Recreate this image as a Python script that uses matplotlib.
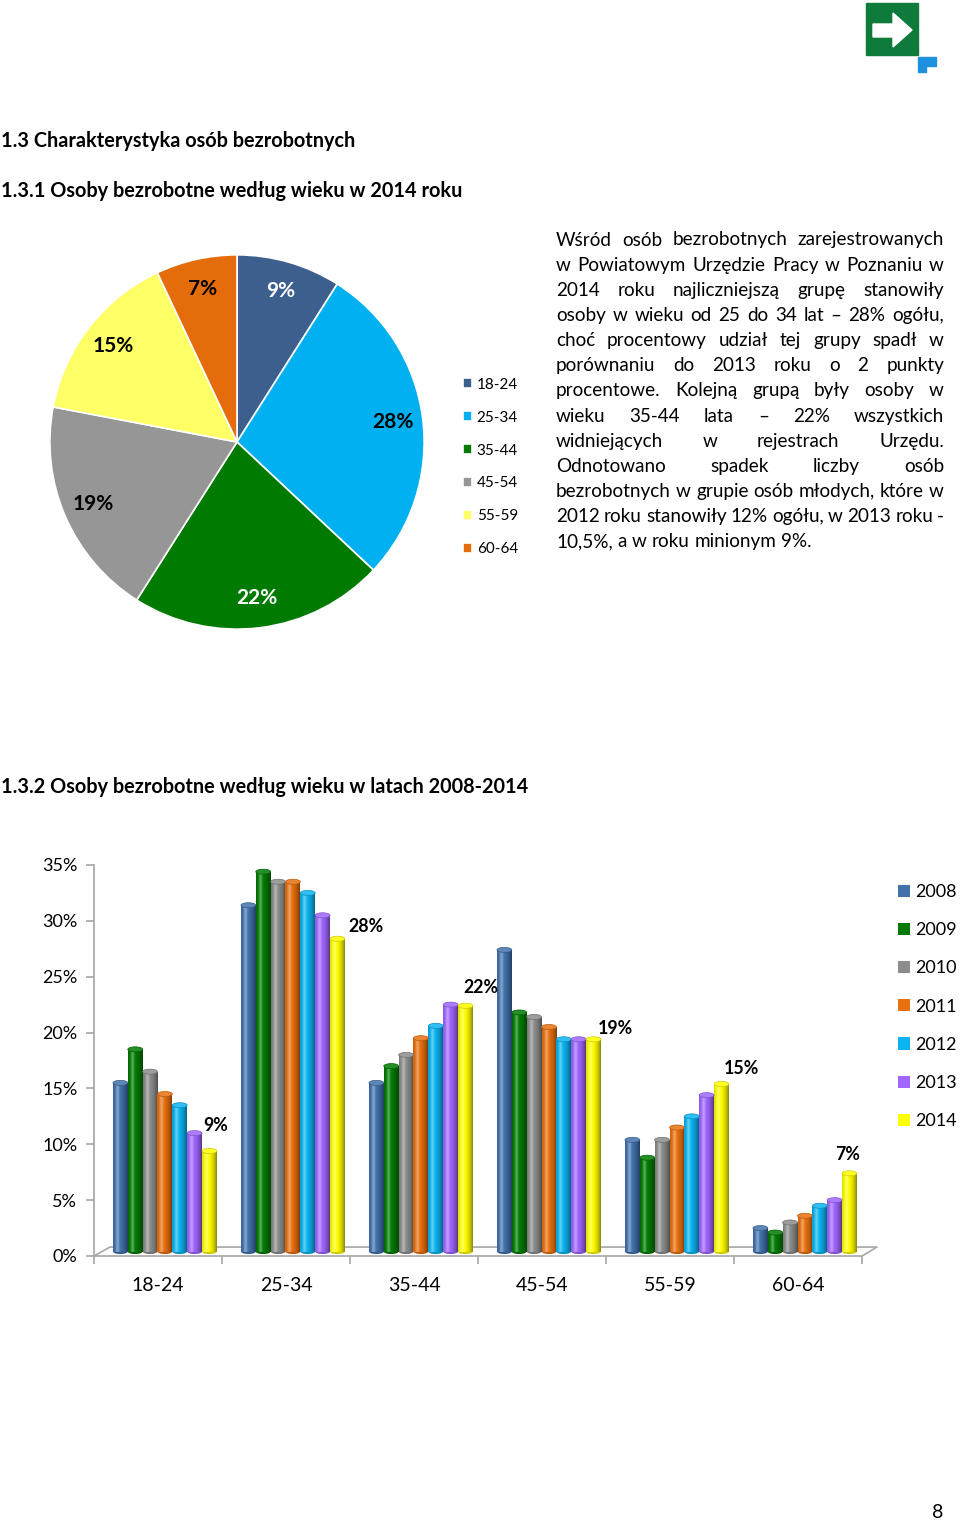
import matplotlib
matplotlib.use("Agg")
import matplotlib.pyplot as plt
import numpy as np
from matplotlib.patches import Rectangle, Polygon, Ellipse
from matplotlib.colors import to_rgb

plt.rcParams["font.family"] = ["Lato", "DejaVu Sans"]

W, H = 960, 1521

######################################################################
# pie: 2014
age_groups = ["18-24", "25-34", "35-44", "45-54", "55-59", "60-64"]
shares_2014 = [9, 28, 22, 19, 15, 7]
pie_colors = ["#3C5F8E", "#00B0F0", "#007A00", "#969696", "#FFFF66", "#E46C0A"]
pie_label_colors = ["white", "black", "white", "black", "black", "black"]

# bars: 2008-2014, share of each age group (%)
years = ["2008", "2009", "2010", "2011", "2012", "2013", "2014"]
s2008 = [15.1, 31.0, 15.1, 27.0, 10.0, 2.1]
s2009 = [18.1, 34.0, 16.6, 21.4, 8.4, 1.7]
s2010 = [16.1, 33.1, 17.6, 21.0, 10.0, 2.6]
s2011 = [14.1, 33.1, 19.1, 20.1, 11.1, 3.2]
s2012 = [13.1, 32.1, 20.2, 19.0, 12.1, 4.1]
s2013 = [10.6, 30.1, 22.1, 19.0, 14.0, 4.6]
s2014 = [9.0, 28.0, 22.0, 19.0, 15.0, 7.0]
bar_colors = ["#4272AC", "#007A00", "#8C8C8C", "#E8700E", "#0AB4F0", "#A066FF", "#FFFF00"]
y_ticks = [0, 5, 10, 15, 20, 25, 30, 35]

heading1 = "1.3 Charakterystyka osób bezrobotnych"
heading2 = "1.3.1 Osoby bezrobotne według wieku w 2014 roku"
heading3 = "1.3.2 Osoby bezrobotne według wieku w latach 2008-2014"
paragraph = [
    "Wśród osób bezrobotnych zarejestrowanych",
    "w Powiatowym Urzędzie Pracy w Poznaniu w",
    "2014 roku najliczniejszą grupę stanowiły",
    "osoby w wieku od 25 do 34 lat – 28% ogółu,",
    "choć procentowy udział tej grupy spadł w",
    "porównaniu do 2013 roku o 2 punkty",
    "procentowe. Kolejną grupą były osoby w",
    "wieku 35-44 lata – 22% wszystkich",
    "widniejących w rejestrach Urzędu.",
    "Odnotowano spadek liczby osób",
    "bezrobotnych w grupie osób młodych, które w",
    "2012 roku stanowiły 12% ogółu, w 2013 roku -",
    "10,5%, a w roku minionym 9%.",
]
######################################################################


def fx(px):
    return px / W


def fy(py):
    return 1 - py / H


fig = plt.figure(figsize=(9.6, 15.21), dpi=100)

# page decoration layer (logo)
deco = fig.add_axes([0, 0, 1, 1], zorder=-1)
deco.set_xlim(0, W)
deco.set_ylim(H, 0)
deco.axis("off")
deco.add_patch(Rectangle((866, 3), 52, 52, color="#0F7B3B"))
deco.add_patch(Polygon([(873, 24), (893, 24), (893, 13), (912, 30), (893, 47),
                        (893, 37), (873, 37)], color="white"))
deco.add_patch(Polygon([(918, 57), (936, 57), (936, 66), (926, 66), (926, 72),
                        (918, 72)], color="#1E90E0"))

# headings
for txt, py in [(heading1, 141), (heading2, 191), (heading3, 787)]:
    fig.text(fx(1), fy(py), txt, fontsize=14.3, fontweight="bold", va="center")
fig.text(fx(938), fy(1512), "8", fontsize=14, va="center", ha="center")

# ---------------- pie ----------------
cx, cy, r = 237, 442, 189
ax_pie = fig.add_axes([fx(cx - r), fy(cy + r), 2 * r / W, 2 * r / H])
wedges, _, autotexts = ax_pie.pie(
    shares_2014, colors=pie_colors, startangle=90, counterclock=False,
    autopct="%d%%", pctdistance=0.84,
    wedgeprops=dict(edgecolor="white", linewidth=1.2),
    textprops=dict(fontsize=15, fontweight="bold"))
for t, c in zip(autotexts, pie_label_colors):
    t.set_color(c)
ax_pie.set_xlim(-1.01, 1.01)
ax_pie.set_ylim(-1.01, 1.01)

fig.legend(wedges, age_groups, loc="center left",
           bbox_to_anchor=(fx(463), fy(467)), frameon=False, fontsize=11,
           borderaxespad=0, borderpad=0,
           handlelength=0.6, handleheight=0.6, handletextpad=0.3,
           labelspacing=1.24)

# ---------------- justified paragraph ----------------
renderer = fig.canvas.get_renderer()
left, right = 556, 944
line_h = 25.15
fs = 13.6
space_w = (fig.text(0, 0, "a a", fontsize=fs).get_window_extent(renderer).width
           - fig.text(0, 0, "aa", fontsize=fs).get_window_extent(renderer).width)
for t in fig.texts[-2:]:
    t.remove()
for k, line in enumerate(paragraph):
    py = 240 + k * line_h
    words = line.split(" ")
    texts = [fig.text(0, fy(py), w, fontsize=fs, va="center") for w in words]
    widths = [t.get_window_extent(renderer).width for t in texts]
    if k == len(paragraph) - 1 or len(words) == 1:
        gap = space_w
    else:
        gap = (right - left - sum(widths)) / (len(words) - 1)
    x = left
    for t, w in zip(texts, widths):
        t.set_x(fx(x))
        x += w + gap

# ---------------- bars ----------------
ax = fig.add_axes([fx(94), fy(1256), (877 - 94) / W, (1256 - 865) / H])
series = [s2008, s2009, s2010, s2011, s2012, s2013, s2014]
x0 = np.arange(len(age_groups))
bw = 0.116
lift = 0.4  # floor depth of the 3D look


def shade(color, n=40):
    base = np.array(to_rgb(color))
    t = np.linspace(0, 1, n)
    light = 1 - 0.45 * ((t - 0.35) / 0.65) ** 2
    hi = 0.35 * np.exp(-((t - 0.3) / 0.12) ** 2)
    rgb = base[None, :] * light[:, None]
    rgb = rgb + (1 - rgb) * hi[:, None]
    return np.clip(rgb, 0, 1)[None, :, :]


bar_sets = []
for j, (vals, col) in enumerate(zip(series, bar_colors)):
    xs = x0 + 0.148 + (j + 0.5) * bw
    bars = ax.bar(xs, vals, width=bw, bottom=lift, color=col, linewidth=0,
                  zorder=2, label=years[j])
    bar_sets.append(bars)
    for b in bars:
        bx, by, w, h = b.get_x(), b.get_y(), b.get_width(), b.get_height()
        im = ax.imshow(shade(col), extent=[bx, bx + w, by, by + h],
                       aspect="auto", zorder=2.1, interpolation="bilinear")
        im.set_clip_path(b)
        cap = np.array(to_rgb(col))
        ax.add_patch(Ellipse((bx + w / 2, by + h), w, 0.45,
                             facecolor=cap + (1 - cap) * 0.15,
                             edgecolor=cap * 0.8, linewidth=0.5, zorder=3))
        ax.add_patch(Ellipse((bx + w / 2, by), w, 0.45,
                             facecolor=cap * 0.8, linewidth=0, zorder=1.9))

# data labels on 2014 bars
label_offsets = [(6, -25), (28, -12), (15, -18), (22, -11), (20, -15), (-2, -19)]
for b, v, (dx, dy) in zip(bar_sets[-1], s2014, label_offsets):
    ax.annotate(f"{v:.0f}%", xy=(b.get_x() + b.get_width() / 2, b.get_y() + b.get_height()),
                xytext=(dx * 0.72, -dy * 0.72), textcoords="offset points",
                ha="center", va="center", fontsize=12.8, fontweight="bold")

# floor
grey = "#A6A6A6"
ax.plot([0, 6, 6.117, 0.125, 0], [0, 0, 0.8, 0.8, 0], color=grey, lw=1.2,
        zorder=1, clip_on=False)

ax.set_xlim(0, 6.117)
ax.set_ylim(0, 35)
ax.set_yticks(y_ticks)
ax.set_yticklabels([f"{t}%" for t in y_ticks])
ax.set_xticks(np.arange(0, 7))
ax.set_xticklabels([])
ax.set_xticks(x0 + 0.5, minor=True)
ax.set_xticklabels(age_groups, minor=True)
ax.tick_params(axis="x", which="major", length=6, color=grey, width=1.2)
ax.tick_params(axis="x", which="minor", length=0, labelsize=14, pad=15)
ax.tick_params(axis="y", length=6, color=grey, width=1.2, labelsize=13, pad=6)
for s in ["top", "right", "bottom"]:
    ax.spines[s].set_visible(False)
ax.spines["left"].set_color(grey)
ax.spines["left"].set_linewidth(1.2)
ax.patch.set_alpha(0)

fig.legend(handles=[b[0] for b in bar_sets], labels=years, loc="upper left",
           bbox_to_anchor=(fx(898), fy(884)), frameon=False, fontsize=13,
           borderaxespad=0, borderpad=0,
           handlelength=0.65, handleheight=0.65, handletextpad=0.3,
           labelspacing=1.23)

fig.savefig("out.png", dpi=100)
